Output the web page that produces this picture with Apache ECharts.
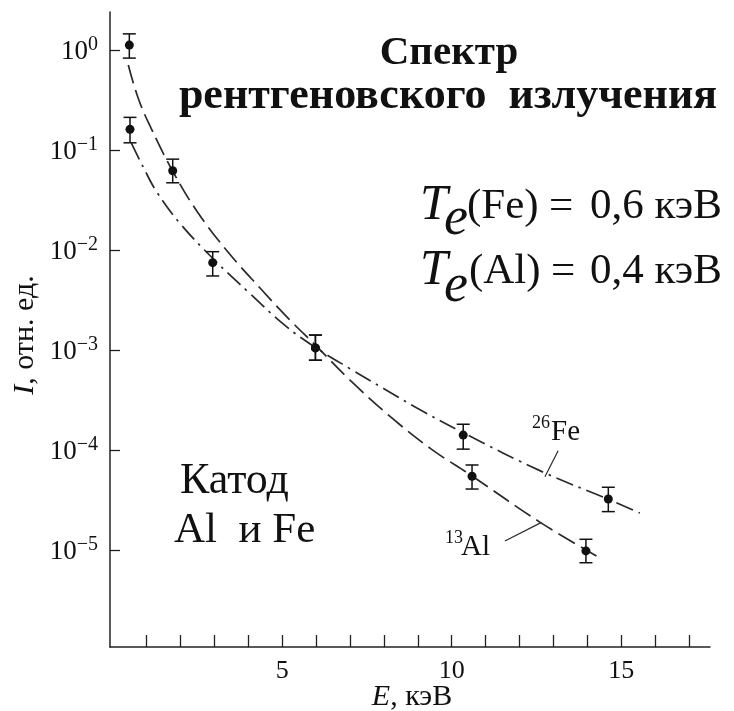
<!DOCTYPE html>
<html>
<head>
<meta charset="utf-8">
<script src="https://cdn.jsdelivr.net/npm/echarts@6/dist/echarts.min.js"></script>
<style>
  html, body { margin: 0; padding: 0; background: #fff; }
  #chart { width: 734px; height: 711px; }
</style>
</head>
<body>
<div id="chart"></div>
<script>
// Measured X-ray spectrum points (energy in keV, intensity in rel. units)
const alEnergy    = [0.49, 1.77, 5.98, 10.6, 13.96];
const alIntensity = [1.12, 0.062, 1.05e-3, 5.46e-5, 9.8e-6];
const alErrLow    = [0.83, 0.047, 7.9e-4, 4.07e-5, 7.46e-6];
const alErrHigh   = [1.45, 0.081, 1.41e-3, 7.08e-5, 1.28e-5];

const feEnergy    = [0.51, 2.95, 5.98, 10.34, 14.62];
const feIntensity = [0.161, 7.47e-3, 1.05e-3, 1.41e-4, 3.24e-5];
const feErrLow    = [0.118, 5.5e-3, 7.9e-4, 1.02e-4, 2.42e-5];
const feErrHigh   = [0.212, 9.62e-3, 1.41e-3, 1.81e-4, 4.24e-5];

// Fitted thermal spectra
const alFitEnergy    = [0.46, 0.75, 1.1, 1.8, 2.5, 3.4, 4.4, 5.2, 6.0, 7.0, 8.2, 9.4, 10.6, 12.6, 14.27];
const alFitIntensity = [0.708, 0.331, 0.174, 0.0589, 0.024, 0.00955, 0.00398, 0.00204, 0.0011, 5.0e-4, 2.14e-4, 1.02e-4, 5.5e-5, 1.9e-5, 8.7e-6];
const feFitEnergy    = [0.55, 0.9, 1.3, 2.0, 3.0, 4.0, 5.1, 6.0, 7.0, 8.0, 9.0, 10.3, 12.7, 14.6, 15.55];
const feFitIntensity = [0.117, 0.0676, 0.038, 0.0182, 0.00794, 0.0038, 0.00174, 0.00105, 6.5e-4, 4.1e-4, 2.6e-4, 1.51e-4, 6.0e-5, 3.24e-5, 2.34e-5];

// Leader lines from the curve labels
const feLeaderEnergy    = [13.14, 12.75];
const feLeaderIntensity = [9.84e-5, 5.41e-5];
const alLeaderEnergy    = [11.57, 12.65];
const alLeaderIntensity = [1.23e-5, 1.89e-5];

// Axis ticks
const xTicks  = [1, 2, 3, 4, 5, 6, 7, 8, 9, 10, 11, 12, 13, 14, 15, 16, 17];
const xLabels = [5, 10, 15];
const yDecades = [-5, -4, -3, -2, -1, 0];

const lg = Math.log10;
const SERIF = '"Liberation Serif", "Times New Roman", serif';
const INK = '#111';

const pts = (xs, ys) => xs.map((x, i) => [x, lg(ys[i])]);
const bars = (xs, lo, hi) => xs.map((x, i) => [x, lg(lo[i]), lg(hi[i])]);

function errorBar(params, api) {
  const x = api.value(0);
  const pLo = api.coord([x, api.value(1)]);
  const pHi = api.coord([x, api.value(2)]);
  const hw = 6.5;
  const style = { stroke: INK, lineWidth: 1.5, fill: null };
  return {
    type: 'group',
    children: [
      { type: 'line', shape: { x1: pLo[0], y1: pLo[1], x2: pHi[0], y2: pHi[1] }, style },
      { type: 'line', shape: { x1: pLo[0] - hw, y1: pLo[1], x2: pLo[0] + hw, y2: pLo[1] }, style },
      { type: 'line', shape: { x1: pHi[0] - hw, y1: pHi[1], x2: pHi[0] + hw, y2: pHi[1] }, style }
    ]
  };
}

const chart = echarts.init(document.getElementById('chart'), null, { renderer: 'canvas' });

const txt = (x, y, text, font, extra) => ({
  type: 'text', x, y,
  style: Object.assign({ text, font, fill: INK, align: 'left', verticalAlign: 'middle' }, extra || {})
});

chart.setOption({
  animation: false,
  backgroundColor: '#fff',
  grid: { left: 110, top: 12, width: 600, height: 635, containLabel: false },
  xAxis: {
    type: 'value',
    min: -0.08,
    max: 17.62,
    axisLine: { show: true, onZero: false, lineStyle: { color: '#222', width: 1.5 } },
    axisTick: { show: true, inside: true, length: 12, customValues: xTicks, lineStyle: { color: '#222', width: 1.3 } },
    axisLabel: {
      customValues: xLabels, margin: 11,
      fontFamily: SERIF, fontSize: 26, color: INK
    },
    splitLine: { show: false }
  },
  yAxis: {
    type: 'value',
    min: -5.97,
    max: 0.38,
    axisLine: { show: true, onZero: false, lineStyle: { color: '#222', width: 1.5 } },
    axisTick: { show: true, inside: true, length: 10, customValues: yDecades, lineStyle: { color: '#222', width: 1.3 } },
    axisLabel: {
      customValues: yDecades, margin: 12,
      formatter: v => '{b|10}{s|' + (Math.round(v) === 0 ? '0' : '\u2212' + Math.abs(Math.round(v))) + '}',
      rich: {
        b: { fontFamily: SERIF, fontSize: 27, color: INK, lineHeight: 30, verticalAlign: 'bottom' },
        s: { fontFamily: SERIF, fontSize: 20, color: INK, lineHeight: 20, verticalAlign: 'top' }
      }
    },
    splitLine: { show: false }
  },
  series: [
    {
      name: 'Al fit', type: 'line', data: pts(alFitEnergy, alFitIntensity),
      smooth: 0.4, showSymbol: false, silent: true,
      lineStyle: { color: '#2a2a2a', width: 1.7, type: [19, 7] }, z: 2
    },
    {
      name: 'Fe fit', type: 'line', data: pts(feFitEnergy, feFitIntensity),
      smooth: 0.4, showSymbol: false, silent: true,
      lineStyle: { color: '#2a2a2a', width: 1.7, type: [18, 6, 2.5, 6] }, z: 2
    },
    {
      name: 'Fe leader', type: 'line', data: pts(feLeaderEnergy, feLeaderIntensity),
      showSymbol: false, silent: true, lineStyle: { color: '#2a2a2a', width: 1.2 }, z: 2
    },
    {
      name: 'Al leader', type: 'line', data: pts(alLeaderEnergy, alLeaderIntensity),
      showSymbol: false, silent: true, lineStyle: { color: '#2a2a2a', width: 1.2 }, z: 2
    },
    { name: 'Al err', type: 'custom', renderItem: errorBar, data: bars(alEnergy, alErrLow, alErrHigh), z: 3 },
    { name: 'Fe err', type: 'custom', renderItem: errorBar, data: bars(feEnergy, feErrLow, feErrHigh), z: 3 },
    {
      name: 'Al', type: 'scatter', data: pts(alEnergy, alIntensity),
      symbol: 'circle', symbolSize: 9, itemStyle: { color: INK, opacity: 1 }, z: 4
    },
    {
      name: 'Fe', type: 'scatter', data: pts(feEnergy, feIntensity),
      symbol: 'circle', symbolSize: 9, itemStyle: { color: INK, opacity: 1 }, z: 4
    }
  ],
  graphic: [
    // Title
    txt(449, 53, 'Спектр', 'bold 41px ' + SERIF, { align: 'center' }),
    txt(448, 97, 'рентгеновского  излучения', 'bold 44px ' + SERIF, { align: 'center' }),
    // Electron temperatures
    txt(420, 206, 'T', 'italic 50px ' + SERIF),
    txt(444, 220, 'e', 'italic 54px ' + SERIF),
    txt(467, 207, '(Fe)', '43px ' + SERIF),
    txt(549, 207, '=', '43px ' + SERIF),
    txt(722, 207, '0,6 кэВ', '43px ' + SERIF, { align: 'right' }),
    txt(420, 271, 'T', 'italic 50px ' + SERIF),
    txt(444, 287, 'e', 'italic 54px ' + SERIF),
    txt(469, 272, '(Al)', '43px ' + SERIF),
    txt(551, 272, '=', '43px ' + SERIF),
    txt(722, 272, '0,4 кэВ', '43px ' + SERIF, { align: 'right' }),
    // Cathode
    txt(180, 481, 'Катод', '44px ' + SERIF),
    txt(174, 531, 'Al  и Fe', '43px ' + SERIF),
    // Curve labels
    txt(532, 423, '26', '18px ' + SERIF),
    txt(551, 432, 'Fe', '29px ' + SERIF),
    txt(445, 538, '13', '18px ' + SERIF),
    txt(461, 547, 'Al', '29px ' + SERIF),
    // Axis names
    {
      type: 'text', x: 412, y: 697,
      style: {
        text: '{i|E}, кэВ', align: 'center', verticalAlign: 'middle',
        font: '30px ' + SERIF, fill: INK,
        rich: { i: { font: 'italic 30px ' + SERIF, fill: INK } }
      }
    },
    {
      type: 'text', x: 25, y: 335, rotation: Math.PI / 2,
      style: {
        text: '{i|I}, отн. ед.', align: 'center', verticalAlign: 'middle',
        font: '30px ' + SERIF, fill: INK,
        rich: { i: { font: 'italic 30px ' + SERIF, fill: INK } }
      }
    }
  ]
});
</script>
</body>
</html>
